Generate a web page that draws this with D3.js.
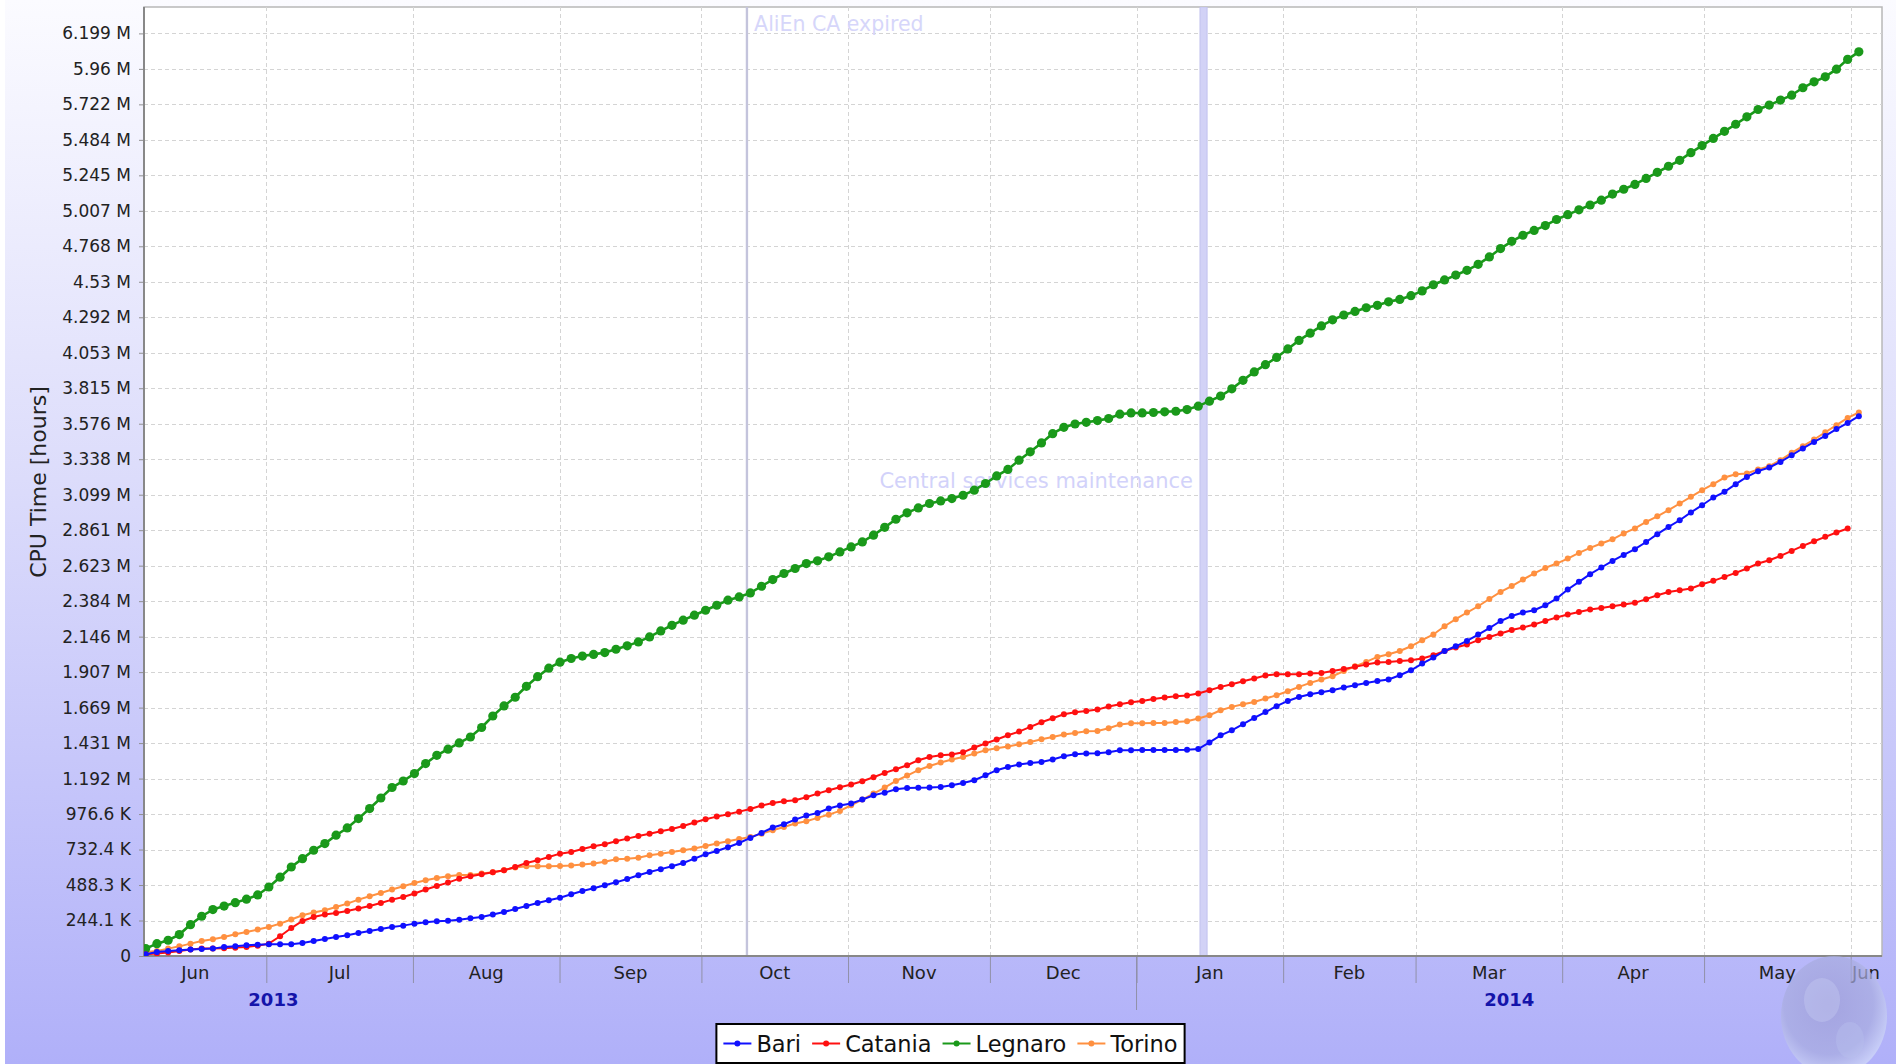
<!DOCTYPE html>
<html><head><meta charset="utf-8">
<script src="https://cdn.jsdelivr.net/npm/d3@7"></script>
<style>html,body{margin:0;padding:0;background:#fff;}svg{display:block;font-family:"DejaVu Sans",sans-serif;}</style>
</head><body><svg id="c" width="1896" height="1064"></svg>
<script>
// ---- DATA (cumulative CPU time, thousands of hours; axis labels use binary prefixes) ----
const seriesNames = ["Bari", "Catania", "Legnaro", "Torino"];
const seriesColors = ["#1010ff", "#ff1010", "#1a991a", "#ff9040"];
const firstPointDate = "2013-06-05T12:00:00Z";
const pointStepHours = 56.82;

const bari = [12,28,35,40,45,49,52,63,68,75,
80,82,82,83,92,106,120,134,146,162,
176,190,204,214,228,237,245,249,256,266,
275,292,310,331,352,373,393,411,435,458,
477,498,519,543,569,592,612,632,655,686,
717,740,766,796,832,867,905,928,961,989,
1008,1039,1060,1074,1102,1132,1151,1175,1184,1185,
1187,1191,1203,1219,1238,1273,1309,1332,1349,1360,
1367,1384,1407,1421,1426,1428,1435,1450,1450,1451,
1451,1452,1452,1453,1458,1505,1555,1590,1633,1677,
1719,1760,1797,1825,1844,1858,1872,1891,1908,1924,
1938,1948,1978,2013,2060,2103,2149,2182,2220,2265,
2310,2360,2395,2420,2436,2471,2518,2582,2636,2690,
2737,2783,2826,2866,2917,2972,3023,3070,3125,3176,
3230,3270,3324,3375,3416,3442,3481,3528,3576,3622,
3664,3712,3756,3803];

const catania = [12,17,24,35,45,52,52,54,59,63,
73,87,139,197,247,275,292,303,317,334,
352,373,397,416,440,468,493,517,545,562,
576,590,604,627,655,674,698,721,733,754,
773,787,808,827,846,862,879,895,916,940,
963,982,998,1017,1036,1060,1078,1090,1097,1118,
1144,1168,1189,1208,1231,1259,1290,1316,1344,1379,
1402,1414,1419,1435,1469,1497,1525,1555,1581,1614,
1647,1675,1703,1717,1726,1736,1758,1774,1788,1797,
1811,1821,1830,1835,1849,1872,1896,1915,1936,1955,
1976,1985,1985,1985,1990,1994,2008,2022,2037,2053,
2067,2072,2079,2084,2096,2119,2149,2173,2194,2225,
2248,2272,2297,2314,2335,2361,2385,2406,2424,2441,
2452,2464,2476,2488,2514,2542,2565,2577,2589,2619,
2643,2671,2699,2730,2765,2788,2819,2854,2889,2922,
2953,2984,3012];

const legnaro = [52,87,111,151,221,280,327,352,376,400,
430,486,555,627,686,745,792,851,902,968,
1039,1113,1187,1233,1285,1356,1414,1457,1501,1543,
1610,1691,1762,1823,1900,1968,2028,2070,2096,2113,
2125,2138,2161,2185,2213,2248,2290,2330,2366,2401,
2436,2471,2507,2530,2558,2605,2652,2695,2730,2765,
2784,2812,2847,2882,2917,2965,3020,3077,3122,3157,
3188,3206,3223,3246,3282,3329,3382,3428,3493,3552,
3615,3680,3725,3748,3760,3772,3787,3817,3826,3826,
3829,3834,3838,3850,3874,3909,3945,3996,4056,4115,
4166,4217,4277,4337,4388,4439,4482,4516,4541,4567,
4584,4609,4626,4652,4686,4729,4763,4797,4831,4873,
4925,4984,5035,5078,5112,5146,5189,5223,5257,5291,
5325,5368,5402,5436,5478,5521,5564,5606,5660,5710,
5760,5810,5860,5912,5964,5995,6030,6065,6117,6159,
6194,6248,6317,6370];

const torino = [28,35,52,68,87,106,118,134,153,169,
186,204,228,257,287,306,322,345,369,397,
421,444,468,491,514,533,550,562,571,571,
581,590,604,623,632,632,632,634,637,644,
651,664,681,686,693,710,721,733,745,757,
775,792,808,825,839,862,886,909,933,949,
973,996,1022,1062,1102,1144,1187,1233,1271,1309,
1339,1363,1384,1402,1426,1450,1464,1476,1492,1508,
1527,1543,1560,1571,1583,1585,1605,1631,1640,1640,
1641,1642,1649,1654,1673,1696,1731,1755,1774,1790,
1814,1837,1865,1896,1924,1948,1971,2008,2041,2072,
2107,2126,2149,2182,2225,2265,2323,2373,2420,2464,
2515,2565,2606,2652,2695,2734,2765,2800,2840,2875,
2906,2936,2977,3012,3058,3098,3141,3188,3235,3282,
3324,3371,3394,3399,3428,3451,3493,3545,3592,3639,
3690,3740,3791,3829];

const yTickStep = 250; // thousands of hours
const yTickLabels = ["0","244.1 K","488.3 K","732.4 K","976.6 K","1.192 M","1.431 M","1.669 M",
"1.907 M","2.146 M","2.384 M","2.623 M","2.861 M","3.099 M","3.338 M","3.576 M","3.815 M",
"4.053 M","4.292 M","4.53 M","4.768 M","5.007 M","5.245 M","5.484 M","5.722 M","5.96 M","6.199 M"];
const monthLabels = ["Jun","Jul","Aug","Sep","Oct","Nov","Dec","Jan","Feb","Mar","Apr","May","Jun"];
const yearLabels = ["2013","2014"];
const yAxisTitle = "CPU Time [hours]";
const events = [
  {label:"AliEn CA expired", start:"2013-10-10T09:00:00Z", end:"2013-10-10T21:00:00Z"},
  {label:"Central services maintenance", start:"2014-01-14T10:00:00Z", end:"2014-01-15T22:00:00Z"}
];
const timeDomain = ["2013-06-05T03:20:00Z", "2014-06-07T14:55:00Z"];
const yMax = 6686;

// ---- LAYOUT ----
const W = 1896, H = 1064;
const P = {l:144, r:1882, t:7, b:956};
const svg = d3.select("#c");
const defs = svg.append("defs");

const bg = defs.append("linearGradient").attr("id","bg").attr("x1",0).attr("y1",0).attr("x2",0).attr("y2",1);
bg.append("stop").attr("offset","0%").attr("stop-color","#fbfbff");
bg.append("stop").attr("offset","45%").attr("stop-color","#dcdcfb");
bg.append("stop").attr("offset","100%").attr("stop-color","#b0b0f9");
svg.append("rect").attr("x",5).attr("y",0).attr("width",W-5).attr("height",H).attr("fill","url(#bg)");

defs.append("clipPath").attr("id","clip").append("rect")
  .attr("x",P.l).attr("y",P.t).attr("width",P.r-P.l).attr("height",P.b-P.t);

const x = d3.scaleUtc().domain(timeDomain.map(d=>new Date(d))).range([P.l,P.r]);
const y = d3.scaleLinear().domain([0,yMax]).range([P.b,P.t]);

svg.append("rect").attr("x",P.l).attr("y",P.t).attr("width",P.r-P.l).attr("height",P.b-P.t)
  .attr("fill","#fff").attr("stroke","#b8b8b8").attr("stroke-width",1.5);

const yVals = yTickLabels.map((_,i)=>i*yTickStep);
const monthStarts = d3.utcMonth.range(x.domain()[0], x.domain()[1]);

// grid
const grid = svg.append("g").attr("stroke","#d4d4d4").attr("stroke-width",1).attr("stroke-dasharray","4,3");
grid.selectAll("line.h").data(yVals.slice(1)).join("line")
  .attr("x1",P.l).attr("x2",P.r).attr("y1",d=>Math.round(y(d))+0.5).attr("y2",d=>Math.round(y(d))+0.5);
grid.selectAll("line.v").data(monthStarts).join("line")
  .attr("y1",P.t).attr("y2",P.b).attr("x1",d=>Math.round(x(d))+0.5).attr("x2",d=>Math.round(x(d))+0.5);

// event markers
const ev = svg.append("g").attr("clip-path","url(#clip)");
events.forEach((e,i)=>{
  const x0 = x(new Date(e.start)), x1 = x(new Date(e.end));
  ev.append("rect").attr("x",x0).attr("y",P.t).attr("width",x1-x0).attr("height",P.b-P.t)
    .attr("fill", i===0 ? "#c4c4dc" : "#d2d2f6")
    .attr("stroke", i===0 ? "none" : "#c2c2ee").attr("stroke-width",1);
});
svg.append("text").text(events[0].label).attr("x",x(new Date(events[0].end))+6).attr("y",31)
  .attr("font-size",20.5).attr("fill","#d6d6fa");
svg.append("text").text(events[1].label).attr("x",x(new Date(events[1].start))-7).attr("y",487.5)
  .attr("text-anchor","end").attr("font-size",21).attr("fill","#d2d2fa");

// axes
const yAxis = svg.append("g").attr("transform",`translate(${P.l},0)`)
  .call(d3.axisLeft(y).tickValues(yVals).tickFormat((d,i)=>yTickLabels[i]).tickSize(5).tickPadding(8));
yAxis.select(".domain").remove();
yAxis.selectAll(".tick line").attr("stroke","#909090");
yAxis.selectAll(".tick text").attr("font-size",17).attr("fill","#222").attr("font-family","DejaVu Sans");

const xAxis = svg.append("g").attr("transform",`translate(0,${P.b})`)
  .call(d3.axisBottom(x).tickValues(monthStarts).tickFormat("").tickSize(27));
xAxis.select(".domain").remove();
xAxis.selectAll(".tick line").attr("stroke","#9090a8");

// year separators
const yearStarts = d3.utcYear.range(x.domain()[0], x.domain()[1]);
svg.selectAll("line.ysep").data(yearStarts).join("line")
  .attr("x1",d=>x(d)).attr("x2",d=>x(d)).attr("y1",P.b).attr("y2",1010).attr("stroke","#9090a8");

// month labels
const monthsAll = d3.utcMonth.range(d3.utcMonth.floor(x.domain()[0]), x.domain()[1]);
monthsAll.forEach((m,i)=>{
  const mid = new Date((m.getTime() + d3.utcMonth.offset(m,1).getTime())/2);
  const t = svg.append("text").text(monthLabels[i]).attr("font-size",18).attr("fill","#222")
    .attr("text-anchor","middle").attr("y",978.5);
  const w = t.node().getComputedTextLength();
  let cx = x(mid);
  if (cx + w/2 > P.r) cx = P.r - w/2 - 2;
  t.attr("x",cx);
});
// year labels
yearLabels.forEach((yl,i)=>{
  const ys = new Date(Date.UTC(+yl,0,1)), ye = new Date(Date.UTC(+yl+1,0,1));
  let cx = x(new Date((ys.getTime()+ye.getTime())/2));
  if (cx > P.r) cx = (x(ys) + P.r)/2;
  svg.append("text").text(yl).attr("x",cx).attr("y",1005.5).attr("text-anchor","middle")
    .attr("font-size",18).attr("font-weight","bold").attr("fill","#1414aa");
});

// axis lines
svg.append("line").attr("x1",P.l).attr("x2",P.l).attr("y1",P.t).attr("y2",P.b).attr("stroke","#888").attr("stroke-width",2);
svg.append("line").attr("x1",P.l).attr("x2",P.r).attr("y1",P.b).attr("y2",P.b).attr("stroke","#888").attr("stroke-width",2);

svg.append("text").text(yAxisTitle).attr("transform","translate(46,482) rotate(-90)")
  .attr("text-anchor","middle").attr("font-size",22).attr("fill","#222");

// series
const t0 = Date.parse(firstPointDate);
const dateAt = i => new Date(t0 + i*pointStepHours*3600e3);
const seriesData = [bari, catania, legnaro, torino];
const style = [{r:3,w:2},{r:3,w:2},{r:4.6,w:2.6},{r:3,w:2}];
const plotG = svg.append("g").attr("clip-path","url(#clip)");
const line = d3.line().x(d=>x(d.d)).y(d=>y(d.v));
[3,2,1,0].forEach(si=>{
  const pts = seriesData[si].map((v,i)=>({d:dateAt(i), v}));
  const g = plotG.append("g");
  g.append("path").datum(pts).attr("d",line).attr("fill","none")
    .attr("stroke",seriesColors[si]).attr("stroke-width",style[si].w);
  g.selectAll("circle").data(pts).join("circle")
    .attr("cx",d=>x(d.d)).attr("cy",d=>y(d.v)).attr("r",style[si].r).attr("fill",seriesColors[si]);
});

// globe watermark
const gg = defs.append("radialGradient").attr("id","globe").attr("cx","45%").attr("cy","40%").attr("r","60%");
gg.append("stop").attr("offset","0%").attr("stop-color","#9e9ed8").attr("stop-opacity",0.75);
gg.append("stop").attr("offset","70%").attr("stop-color","#a8acdf").attr("stop-opacity",0.7);
gg.append("stop").attr("offset","100%").attr("stop-color","#d0d8f8").attr("stop-opacity",0.75);
svg.append("ellipse").attr("cx",1834).attr("cy",1016).attr("rx",53).attr("ry",60).attr("fill","url(#globe)");
svg.append("ellipse").attr("cx",1822).attr("cy",1000).attr("rx",18).attr("ry",22).attr("fill","#c4c8f0").attr("opacity",0.45);
svg.append("ellipse").attr("cx",1850).attr("cy",1040).attr("rx",14).attr("ry",18).attr("fill","#b8c0ee").attr("opacity",0.4);

// legend
const leg = svg.append("g");
const symW = 28, symGap = 5, itemGap = 11, pad = 7, legCY = 1043.5;
const box = leg.append("rect").attr("y",1024).attr("height",39).attr("fill","#fff").attr("stroke","#000").attr("stroke-width",2);
let cx = 0;
const items = seriesNames.map((n,i)=>{
  const gi = leg.append("g");
  gi.append("line").attr("x1",0).attr("x2",symW).attr("y1",legCY).attr("y2",legCY).attr("stroke",seriesColors[i]).attr("stroke-width",2);
  gi.append("circle").attr("cx",symW/2).attr("cy",legCY).attr("r",3).attr("fill",seriesColors[i]);
  const t = gi.append("text").text(n).attr("x",symW+symGap).attr("y",legCY+8.3).attr("font-size",22.5).attr("fill","#111");
  const w = symW + symGap + t.node().getComputedTextLength();
  gi.attr("transform",`translate(${cx},0)`);
  const res = {g:gi, off:cx};
  cx += w + itemGap;
  return res;
});
const total = cx - itemGap + 2*pad;
const bx = (5 + W)/2 - total/2;
box.attr("x",bx).attr("width",total);
items.forEach(it=>it.g.attr("transform",`translate(${bx+pad+it.off},0)`));
</script></body></html>
